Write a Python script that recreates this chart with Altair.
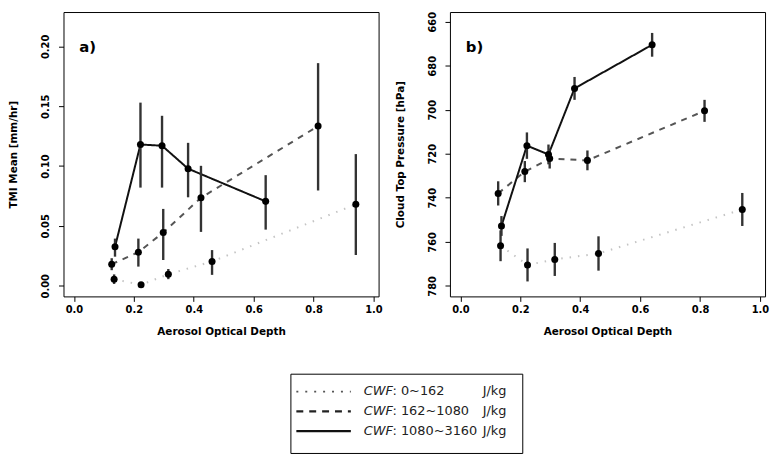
import altair as alt
import pandas as pd

# ---- data ----
classes = ["0~162", "162~1080", "1080~3160"]

aod_low = [0.134, 0.224, 0.315, 0.461, 0.941]
aod_mid = [0.126, 0.215, 0.298, 0.424, 0.815]
aod_high = [0.137, 0.222, 0.294, 0.381, 0.640]

tmi_low = [0.0055, 0.0008, 0.0096, 0.0203, 0.068]
tmi_low_lo = [0.0015, 0.0000, 0.0055, 0.0091, 0.0257]
tmi_low_hi = [0.0095, 0.0016, 0.0140, 0.0298, 0.1100]
tmi_mid = [0.0180, 0.0280, 0.0445, 0.0735, 0.1334]
tmi_mid_lo = [0.0130, 0.0160, 0.0215, 0.0450, 0.0796]
tmi_mid_hi = [0.0230, 0.0394, 0.0642, 0.1002, 0.1860]
tmi_high = [0.0325, 0.1180, 0.1170, 0.0978, 0.0705]
tmi_high_lo = [0.0243, 0.0820, 0.0820, 0.0739, 0.0469]
tmi_high_hi = [0.0394, 0.1530, 0.1420, 0.1194, 0.0924]

ctp_low = [761.8, 770.5, 768.0, 765.3, 745.3]
ctp_low_err = [7.0, 7.5, 7.5, 7.8, 7.5]
ctp_mid = [738.0, 728.1, 722.2, 723.0, 700.5]
ctp_mid_err = [5.5, 4.8, 4.5, 4.5, 5.0]
ctp_high = [752.8, 716.3, 720.3, 690.3, 670.5]
ctp_high_err = [4.5, 6.0, 4.5, 5.2, 5.4]

x_ticks = [0.0, 0.2, 0.4, 0.6, 0.8, 1.0]
tmi_ticks = [0.00, 0.05, 0.10, 0.15, 0.20]
ctp_ticks = [660, 680, 700, 720, 740, 760, 780]

# ---- build table ----
rows = []
for cls, aod, t, tlo, thi, c, ce in [
    (classes[0], aod_low, tmi_low, tmi_low_lo, tmi_low_hi, ctp_low, ctp_low_err),
    (classes[1], aod_mid, tmi_mid, tmi_mid_lo, tmi_mid_hi, ctp_mid, ctp_mid_err),
    (classes[2], aod_high, tmi_high, tmi_high_lo, tmi_high_hi, ctp_high, ctp_high_err),
]:
    for i in range(len(aod)):
        rows.append(dict(cls=cls, order=i, aod=aod[i], tmi=t[i], tmi_lo=tlo[i], tmi_hi=thi[i],
                         ctp=c[i], ctp_lo=c[i] - ce[i], ctp_hi=c[i] + ce[i]))
df = pd.DataFrame(rows)

FONT = "DejaVu Sans"
color_scale = alt.Scale(domain=classes, range=["#c4c4c4", "#555555", "#111111"])
dash_scale = alt.Scale(domain=classes, range=[[1.5, 7], [6, 6], [1, 0]])
width_scale = alt.Scale(domain=classes, range=[2.0, 2.0, 1.4])
leg_color_scale = alt.Scale(domain=classes, range=["#555555", "#222222", "#111111"])
leg_dash_scale = alt.Scale(domain=classes, range=[[2, 7], [7, 6], [1, 0]])
leg_width_scale = alt.Scale(domain=classes, range=[1.8, 2.4, 1.6])

xscale = alt.Scale(domain=[-0.035, 1.017], nice=False, zero=False)
xaxis = alt.Axis(values=x_ticks, format=".1f", title="Aerosol Optical Depth")

PW, PH = 318, 287


def panel(yfield, lo, hi, yscale, yaxis, label):
    base = alt.Chart(df)
    x = alt.X("aod:Q", scale=xscale, axis=xaxis)
    lines = base.mark_line().encode(
        x=x,
        y=alt.Y(f"{yfield}:Q", scale=yscale, axis=yaxis),
        color=alt.Color("cls:N", scale=color_scale, legend=None),
        strokeDash=alt.StrokeDash("cls:N", scale=dash_scale, legend=None),
        size=alt.Size("cls:N", scale=width_scale, legend=None),
        order="order:Q",
    )
    bars = base.mark_rule(strokeWidth=2.4, color="#333333").encode(
        x=x, y=alt.Y(f"{lo}:Q"), y2=alt.Y2(f"{hi}:Q")
    )
    pts = base.mark_circle(size=50, color="black", opacity=1).encode(
        x=x, y=alt.Y(f"{yfield}:Q")
    )
    lab = alt.Chart(pd.DataFrame({"t": [label]})).mark_text(
        align="left", baseline="middle", font=FONT, fontSize=15, fontWeight="bold", color="black"
    ).encode(x=alt.value(16), y=alt.value(35), text="t:N")
    return alt.layer(lines, bars, pts, lab).properties(width=PW, height=PH)


left = panel(
    "tmi", "tmi_lo", "tmi_hi",
    alt.Scale(domain=[-0.0089, 0.2287], nice=False, zero=False),
    alt.Axis(values=tmi_ticks, format=".2f", title="TMI Mean [mm/hr]"),
    "a)",
)
right = panel(
    "ctp", "ctp_lo", "ctp_hi",
    alt.Scale(domain=[655.6, 784.8], nice=False, zero=False, reverse=True),
    alt.Axis(values=ctp_ticks, format="d", title="Cloud Top Pressure [hPa]"),
    "b)",
)

# ---- legend ----
leg_df = pd.DataFrame({"lcls": classes, "rng": [": " + c for c in classes], "cwf": ["CWF"] * 3,
                       "unit": ["J/kg"] * 3})
LW, LH = 234, 80
ly = alt.Y("lcls:N", scale=alt.Scale(type="point", domain=classes, range=[18, 58], padding=0),
           axis=None)
leg_base = alt.Chart(leg_df)
leg_lines = leg_base.mark_rule().encode(
    x=alt.value(6), x2=alt.value(61), y=ly,
    color=alt.Color("lcls:N", scale=leg_color_scale, legend=None),
    strokeDash=alt.StrokeDash("lcls:N", scale=leg_dash_scale, legend=None),
    size=alt.Size("lcls:N", scale=leg_width_scale, legend=None),
)
leg_cwf = leg_base.mark_text(align="left", baseline="middle", font=FONT, fontSize=13,
                             fontStyle="italic", color="#222222").encode(
    x=alt.value(74), y=ly, text="cwf:N")
leg_rng = leg_base.mark_text(align="left", baseline="middle", font=FONT, fontSize=13,
                             color="#222222").encode(
    x=alt.value(103), y=ly, text="rng:N")
leg_unit = leg_base.mark_text(align="left", baseline="middle", font=FONT, fontSize=13,
                              color="#222222").encode(
    x=alt.value(194), y=ly, text="unit:N")
legend = alt.layer(leg_lines, leg_cwf, leg_rng, leg_unit).properties(
    width=LW, height=LH, view=alt.ViewBackground(stroke="black", strokeWidth=1))

spacer = alt.Chart(pd.DataFrame({"a": [0]})).mark_point(opacity=0).encode(
    x=alt.value(0), y=alt.value(0)).properties(
    width=228, height=1, view=alt.ViewBackground(stroke=None))

top = alt.hconcat(left, right, spacing=11)
bottom = alt.hconcat(spacer, legend, spacing=0)
chart = alt.vconcat(top, bottom, spacing=34).resolve_scale(
    color="independent", strokeDash="independent", size="independent"
).properties(
    padding={"left": 0, "top": 0, "right": 0, "bottom": 0}
).configure_view(stroke="black", strokeWidth=1).configure_axis(
    labelFont=FONT, labelFontSize=10, labelFontWeight="bold", labelColor="black",
    titleFont=FONT, titleFontSize=10.5, titleFontWeight="bold", titleColor="black",
    tickSize=5, tickColor="black", domain=False, grid=False, labelPadding=3,
).configure_axisX(titlePadding=12).configure_axisY(
    labelAngle=270, labelAlign="center", labelBaseline="bottom",
    labelPadding=8, titlePadding=22)

chart.save("out.html", embed_options={"renderer": "svg", "actions": False})
